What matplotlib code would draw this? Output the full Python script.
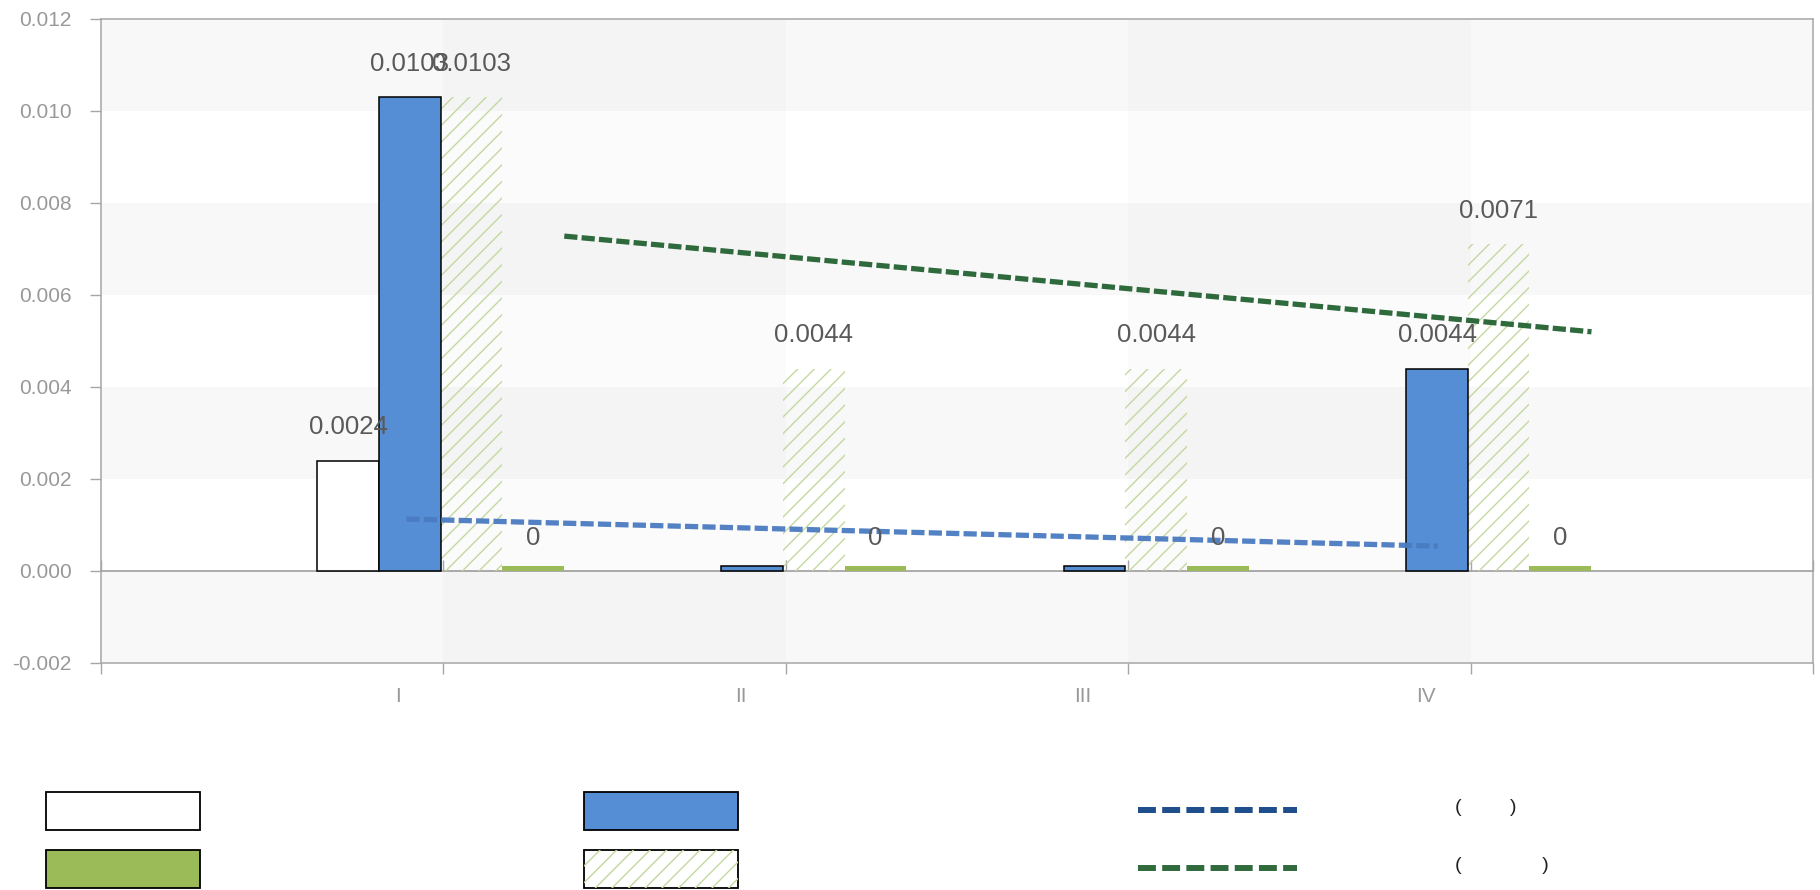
import numpy as np
import matplotlib
matplotlib.use("Agg")
from matplotlib import pyplot as plt
from matplotlib import transforms
from matplotlib.patches import Rectangle
from matplotlib.lines import Line2D

# ------ data ------ #

categories = ["I", "II", "III", "IV"]
series_white = [0.0024, 0, 0, 0]
series_blue = [0.0103, 0, 0, 0.0044]
series_hatch = [0.0103, 0.0044, 0.0044, 0.0071]
series_green = [0, 0, 0, 0]

# dashed trend lines (x in category units)
trend_blue_x = [-0.108, 2.904]
trend_blue_y = [0.00113, 0.00054]
trend_green_x = [0.353, 3.353]
trend_green_y = [0.00728, 0.00520]

y_ticks = [-0.002, 0.0, 0.002, 0.004, 0.006, 0.008, 0.010, 0.012]

# ------ style ------ #

plt.rcParams['font.family'] = ['Liberation Sans', 'DejaVu Sans']
plt.rcParams['axes.unicode_minus'] = False
plt.rcParams['hatch.linewidth'] = 1.0

grid_gray = "#a6a6a6"
tick_gray = "#999999"
label_gray = "#595959"
blue = "#558ed5"
green = "#9bbb59"
hatch_green = "#c4d89f"

fig = plt.figure(figsize=(18.2, 8.9), dpi=100)
ax = fig.add_axes([101 / 1820, 1 - 663 / 890, 1712 / 1820, 644 / 890])

x = np.arange(len(categories))
bar_w = 0.18
offsets = [(i - 1.5) * bar_w - 0.008 for i in range(4)]
stub = 0.0001  # zero bars are still drawn as a thin sliver

# background stripes
for lo in [0.010, 0.006, 0.002, -0.002]:
    ax.axhspan(lo, lo + 0.002, color="#f8f8f8", lw=0, zorder=0)
for lo in [0, 2]:
    ax.axvspan(lo, lo + 1, color="black", alpha=0.014, lw=0, zorder=0.5)


def add_labels(xs, values, show_zero):
    for xi, v in zip(xs, values):
        if v == 0 and not show_zero:
            continue
        ax.annotate("%g" % v, (xi, v), xytext=(0, 19), textcoords="offset points",
                    ha="center", va="baseline", fontsize=18.5, color=label_gray, zorder=6)


# white series: zeros not drawn
vals = np.array(series_white)
xs = x + offsets[0]
ax.bar(xs[vals > 0], vals[vals > 0], width=bar_w, color="white",
       edgecolor="black", linewidth=1.1, zorder=3)
add_labels(xs, vals, False)

# blue series
vals = np.array(series_blue)
h = np.where(vals == 0, stub, vals)
ax.bar(x + offsets[1], h, width=bar_w, color=blue, edgecolor="black", linewidth=1.1, zorder=3)
add_labels(x + offsets[1], vals, False)

# hatched series
vals = np.array(series_hatch)
ax.bar(x + offsets[2], vals, width=bar_w, facecolor="none", edgecolor=hatch_green,
       hatch="//", linewidth=0, zorder=2)
add_labels(x + offsets[2], vals, False)

# green series
vals = np.array(series_green)
h = np.where(vals == 0, stub, vals)
ax.bar(x + offsets[3], h, width=bar_w, color=green, linewidth=0, zorder=3)
add_labels(x + offsets[3], vals, True)

# trend lines
ax.plot(trend_blue_x, trend_blue_y, color="#4a7bc1", lw=3.8, dashes=(2.5, 0.8),
        dash_capstyle="butt", zorder=5, alpha=0.95)
ax.plot(trend_green_x, trend_green_y, color="#2e6a3b", lw=3.8, dashes=(2.5, 0.8),
        dash_capstyle="butt", zorder=5)

# axes
ax.set_xlim(-1, 4)
ax.set_ylim(-0.002, 0.012)
ax.set_yticks(y_ticks)
ax.set_yticklabels(["%.3f" % t for t in y_ticks])
ax.set_xticks(np.arange(-1, 5))
ax.set_xticklabels([""] + categories + [""])
ax.tick_params(axis="y", length=8, width=1, color=grid_gray, labelcolor=tick_gray,
               labelsize=15, pad=13)
ax.tick_params(axis="x", length=8, width=1, color=grid_gray, labelcolor=tick_gray,
               labelsize=15, pad=9)
shift = transforms.ScaledTranslation(-45 / 100, 0, fig.dpi_scale_trans)
for lab in ax.get_xticklabels():
    lab.set_transform(lab.get_transform() + shift)
for sp in ax.spines.values():
    sp.set_color(grid_gray)
    sp.set_linewidth(1.1)

# category axis line at zero
zero_ax = ax.secondary_xaxis(0.002 / 0.014)
zero_ax.set_xticks(np.arange(-1, 5))
zero_ax.tick_params(direction="in", length=8, width=1, color=grid_gray, labelbottom=False)
zero_ax.spines["bottom"].set_color(grid_gray)
zero_ax.spines["bottom"].set_linewidth(1.3)

# ------ legend (labels did not render in the original, only brackets) ------ #

leg = fig.add_axes([0, 0, 1, 1], facecolor="none")
leg.set_xlim(0, 1820)
leg.set_ylim(890, 0)
leg.axis("off")

leg.add_patch(Rectangle((46, 792), 154, 38, facecolor="white", edgecolor="black", lw=1.3))
leg.add_patch(Rectangle((584, 792), 154, 38, facecolor=blue, edgecolor="black", lw=1.3))
leg.add_patch(Rectangle((46, 850), 154, 38, facecolor=green, edgecolor="black", lw=1.3))
leg.add_patch(Rectangle((584, 850), 154, 38, facecolor="white", edgecolor="black", lw=1.3))
leg.add_patch(Rectangle((584, 850), 154, 38, facecolor="none", edgecolor=hatch_green,
                        hatch="//", lw=0))
leg.add_line(Line2D([1138, 1297], [810, 810], color="#1f4e8c", lw=4.3, dashes=(3, 1.05)))
leg.add_line(Line2D([1138, 1297], [868, 868], color="#316b3d", lw=4.3, dashes=(3, 1.05)))
leg.text(1455, 808, "(" + " " * 9 + ")", fontsize=14, color="#222222", va="center", ha="left")
leg.text(1455, 866, "(" + " " * 15 + ")", fontsize=14, color="#222222", va="center", ha="left")

fig.savefig("out.png", dpi=100)
